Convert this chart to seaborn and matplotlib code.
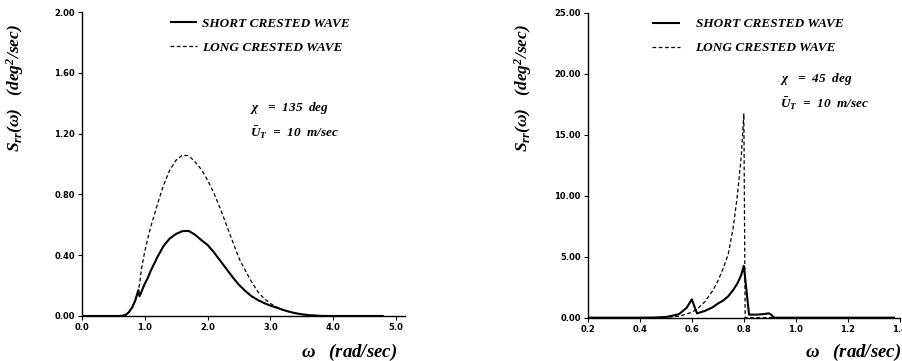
import matplotlib
matplotlib.use("Agg")
import matplotlib.pyplot as plt
import pandas as pd
import seaborn as sns

# ---- Roll spectra, heading chi = 135 deg -------------------------------
omega_135 = [0.0, 0.2, 0.4, 0.6, 0.65, 0.7, 0.75, 0.8, 0.85, 0.9, 0.92, 0.95,
             1.0, 1.05, 1.1, 1.2, 1.3, 1.4, 1.5, 1.6, 1.7, 1.8, 1.9, 2.0,
             2.1, 2.2, 2.3, 2.4, 2.5, 2.6, 2.7, 2.8, 2.9, 3.0, 3.1, 3.2,
             3.3, 3.4, 3.5, 3.6, 3.7, 3.8, 3.9, 4.0, 4.5, 4.8]
short_135 = [0.0, 0.0, 0.0, 0.0, 0.002, 0.008, 0.025, 0.055, 0.10, 0.17, 0.13, 0.16,
             0.21, 0.25, 0.30, 0.385, 0.46, 0.51, 0.54, 0.558, 0.56, 0.535, 0.50, 0.468,
             0.42, 0.365, 0.31, 0.255, 0.205, 0.165, 0.13, 0.105, 0.085, 0.068, 0.055, 0.04,
             0.028, 0.018, 0.011, 0.006, 0.003, 0.001, 0.0, 0.0, 0.0, 0.0]
long_135 = [0.0, 0.0, 0.0, 0.0, 0.002, 0.008, 0.025, 0.055, 0.10, 0.17, 0.21, 0.31,
            0.42, 0.51, 0.59, 0.73, 0.86, 0.96, 1.025, 1.058, 1.055, 1.015, 0.965, 0.895,
            0.81, 0.71, 0.60, 0.49, 0.38, 0.30, 0.225, 0.16, 0.115, 0.082, 0.058, 0.04,
            0.028, 0.018, 0.011, 0.006, 0.003, 0.001, 0.0, 0.0, 0.0, 0.0]

# ---- Roll spectra, heading chi = 45 deg --------------------------------
omega_45 = [0.2, 0.3, 0.4, 0.45, 0.5, 0.55, 0.58, 0.6, 0.62, 0.65, 0.68, 0.7,
            0.72, 0.74, 0.76, 0.775, 0.79, 0.8, 0.805, 0.82, 0.85, 0.88, 0.895,
            0.905, 0.915, 1.0, 1.2, 1.38]
short_45 = [0.0, 0.0, 0.0, 0.01, 0.05, 0.28, 0.8, 1.5, 0.35, 0.55, 0.85, 1.15,
            1.4, 1.75, 2.3, 2.8, 3.5, 4.25, 3.25, 0.25, 0.25, 0.3, 0.36,
            0.25, 0.0, 0.0, 0.0, 0.0]
long_45 = [0.0, 0.0, 0.0, 0.0, 0.03, 0.12, 0.3, 0.45, 0.7, 1.3, 2.2, 3.0,
           4.0, 5.2, 7.5, 10.0, 13.2, 16.7, 0.0, 0.0, 0.0, 0.0, 0.0,
           0.0, 0.0, 0.0, 0.0, 0.0]

labels = ["SHORT CRESTED WAVE", "LONG CRESTED WAVE"]
x_ticks_135 = [0.0, 1.0, 2.0, 3.0, 4.0, 5.0]
y_ticks_135 = [0.0, 0.4, 0.8, 1.2, 1.6, 2.0]
x_ticks_45 = [0.2, 0.4, 0.6, 0.8, 1.0, 1.2, 1.4]
y_ticks_45 = [0.0, 5.0, 10.0, 15.0, 20.0, 25.0]

sns.set_theme(style="ticks")
plt.rcParams["font.family"] = ["Liberation Serif", "DejaVu Serif"]
plt.rcParams["mathtext.fontset"] = "custom"
plt.rcParams["mathtext.it"] = "Liberation Serif:bold:italic"
plt.rcParams["mathtext.rm"] = "Liberation Serif:bold:italic"
plt.rcParams["mathtext.bf"] = "Liberation Serif:bold:italic"
for key in ("text.color", "axes.labelcolor", "xtick.color", "ytick.color",
            "axes.edgecolor"):
    plt.rcParams[key] = "black"


def tidy(omega, short, long_):
    df = pd.DataFrame({"omega": omega + omega,
                       "S": short + long_,
                       "wave": [labels[0]] * len(omega) + [labels[1]] * len(omega)})
    return df


fig = plt.figure(figsize=(9.03, 3.61), dpi=100)
ax1 = fig.add_axes([0.0905, 0.1247, 0.358, 0.842])
ax2 = fig.add_axes([0.6508, 0.1200, 0.3459, 0.845])

text_kw = dict(fontweight="bold", fontstyle="italic", color="black")
TXT = 9.5

panels = [
    (ax1, tidy(omega_135, short_135, long_135), (0, 5.14), (0, 2.0),
     x_ticks_135, y_ticks_135, "{:.1f}", "{:.2f}",
     (0.188, 0.952), 0.35, r"$\chi$   =  135  deg", (0.52, 0.685)),
    (ax2, tidy(omega_45, short_45, long_45), (0.2, 1.4), (0, 25.0),
     x_ticks_45, y_ticks_45, "{:.1f}", "{:.2f}",
     (0.722, 0.950), 1.2, r"$\chi$   =  45  deg", (0.615, 0.782)),
]

for (ax, df, xlim, ylim, xt, yt, xf, yf, leg_at, pad, chi_txt, ann) in panels:
    sns.lineplot(data=df, x="omega", y="S", hue="wave", style="wave",
                 palette=["black", "black"], dashes=[(1, 0), (3, 2)],
                 sort=False, estimator=None, ax=ax, legend=False)
    for line, lw in zip(ax.get_lines(), [1.5, 0.9]):
        line.set_linewidth(lw)
    ax.set_xlim(*xlim)
    ax.set_ylim(*ylim)
    ax.set_xticks(xt)
    ax.set_yticks(yt)
    ax.set_xticklabels([xf.format(v) for v in xt], fontsize=6,
                       fontweight="bold", family="DejaVu Sans")
    ax.set_yticklabels([yf.format(v) for v in yt], fontsize=6,
                       fontweight="bold", family="DejaVu Sans")
    ax.tick_params(axis="both", direction="out", length=3, width=0.8,
                   pad=2, color="black", labelcolor="black")
    sns.despine(ax=ax)
    for sp in ("left", "bottom"):
        ax.spines[sp].set_linewidth(1.0)
        ax.spines[sp].set_color("black")
    ax.set_xlabel("")
    ax.set_ylabel("")
    leg = ax.legend(ax.get_lines(), labels, loc="upper left",
                    bbox_to_anchor=leg_at, bbox_transform=fig.transFigure,
                    frameon=False, borderpad=0, borderaxespad=0,
                    handlelength=2.1, handletextpad=pad, labelspacing=0.9,
                    prop=dict(family="Liberation Serif", weight="bold",
                              style="italic", size=TXT))
    for t in leg.get_texts():
        t.set_color("black")
    ax.text(ann[0], ann[1], chi_txt, transform=ax.transAxes,
            fontsize=TXT, va="center", ha="left", **text_kw)
    ax.text(ann[0], ann[1] - 0.082, r"$\bar{U}_T$  =  10  m/sec",
            transform=ax.transAxes, fontsize=TXT, va="center", ha="left",
            **text_kw)

ylabel = r"$S_{rr}(\omega)$   (deg$^2$/sec)"
fig.text(0.017, 0.755, ylabel, rotation=90, ha="center", va="center",
         fontsize=12.5, **text_kw)
fig.text(0.579, 0.755, ylabel, rotation=90, ha="center", va="center",
         fontsize=12.5, **text_kw)
fig.text(0.440, 0.025, r"$\omega$   (rad/sec)", ha="right", va="center",
         fontsize=13.5, **text_kw)
fig.text(0.998, 0.025, r"$\omega$   (rad/sec)", ha="right", va="center",
         fontsize=13.5, **text_kw)

fig.savefig("out.png", dpi=100, facecolor="white")
